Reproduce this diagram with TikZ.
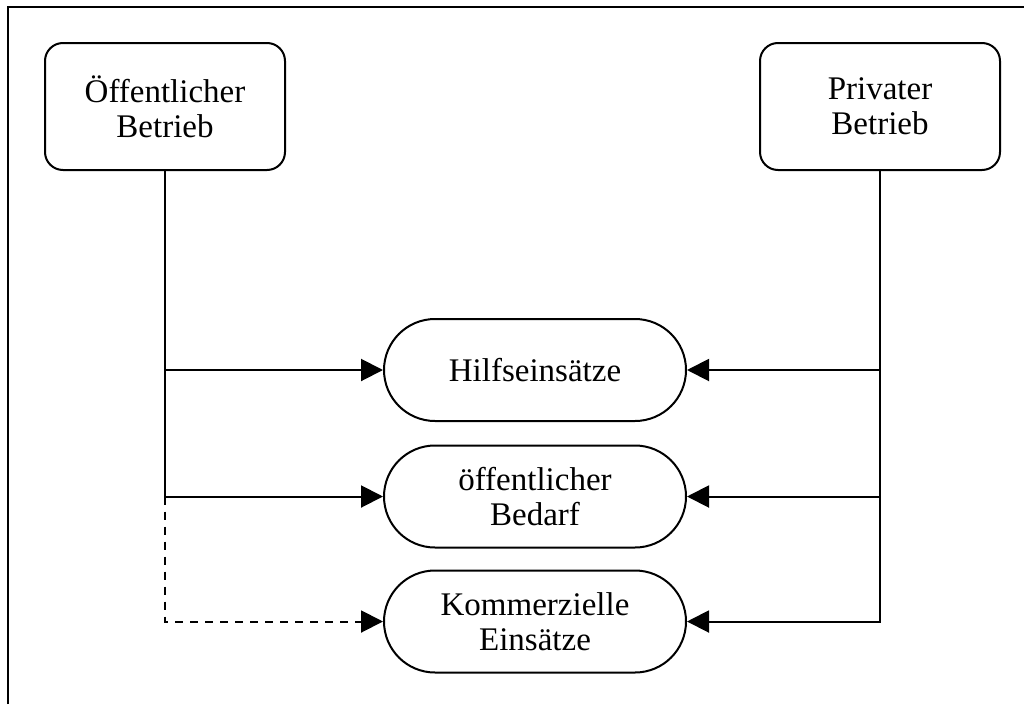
\documentclass[tikz,border=0pt]{standalone}
\usepackage{fontspec}
\setmainfont{Liberation Serif}
\usetikzlibrary{arrows.meta,shapes.misc}
\begin{document}
\begin{tikzpicture}[x=1pt,y=-1pt,
  line width=2pt,
  every node/.style={font=\fontsize{33}{35}\selectfont, align=center, inner sep=0pt},
  operator/.style={draw, rectangle, rounded corners=18pt, minimum width=240pt, minimum height=127pt},
  usage/.style={draw, rounded rectangle, minimum width=302pt, minimum height=102pt},
  flow/.style={-{Triangle[length=22pt,width=22pt]}},
  optional/.style={flow, dash pattern=on 8pt off 7pt}]
\useasboundingbox (0,0) rectangle (1024,704);
% frame edges
\coordinate (fbl) at (8,704);
\coordinate (ftl) at (8,7);
\coordinate (ftr) at (1024,7);
\draw (fbl) -- (ftl) -- (ftr);

% operators
\node[operator] (oeb) at (165,106.5) {Öffentlicher\\Betrieb};
\node[operator] (prb) at (880,106.5) {Privater\\Betrieb};

% types of operation
\node[usage] (hilf) at (535,370) {Hilfseinsätze};
\node[usage] (bed)  at (535,496.5) {öffentlicher\\Bedarf};
\node[usage] (kom)  at (535,621.5) {Kommerzielle\\Einsätze};

% public operator
\draw (oeb.south) -- (oeb.south |- bed.west);
\draw[flow] (oeb.south |- hilf.west) -- (hilf.west);
\draw[flow] (oeb.south |- bed.west) -- (bed.west);
\draw[optional] (oeb.south |- bed.west) |- (kom.west);

% private operator
\draw[flow] (prb.south) |- (kom.east);
\draw[flow] (prb.south |- hilf.east) -- (hilf.east);
\draw[flow] (prb.south |- bed.east) -- (bed.east);
\end{tikzpicture}
\end{document}
